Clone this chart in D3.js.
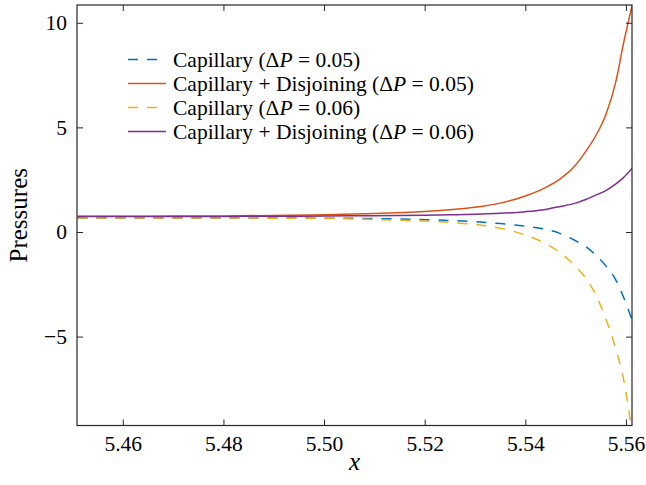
<!DOCTYPE html>
<html><head><meta charset="utf-8">
<script src="https://cdn.jsdelivr.net/npm/d3@7"></script>
</head>
<body style="margin:0;background:#fff">
<svg id="chart" width="646" height="485" style="display:block"></svg>
<script>
const xValues = [5.451, 5.46, 5.47, 5.48, 5.49, 5.50, 5.51, 5.52, 5.525, 5.53, 5.535, 5.54, 5.544, 5.547, 5.55, 5.552, 5.554, 5.556, 5.558, 5.5595, 5.5612];
const capillary005 = [0.67, 0.67, 0.67, 0.67, 0.67, 0.66, 0.64, 0.59, 0.55, 0.49, 0.40, 0.28, 0.13, -0.08, -0.42, -0.70, -1.10, -1.62, -2.30, -3.10, -4.20];
const capDisj005 = [0.75, 0.75, 0.76, 0.77, 0.79, 0.82, 0.88, 0.98, 1.06, 1.18, 1.38, 1.72, 2.12, 2.55, 3.20, 3.85, 4.60, 5.60, 7.20, 9.00, 10.80];
const capillary006 = [0.67, 0.67, 0.67, 0.67, 0.66, 0.65, 0.60, 0.52, 0.46, 0.36, 0.18, -0.14, -0.55, -1.00, -1.65, -2.20, -3.00, -4.15, -5.60, -7.00, -9.60];
const capDisj006 = [0.74, 0.74, 0.74, 0.745, 0.75, 0.76, 0.78, 0.80, 0.82, 0.85, 0.89, 0.97, 1.08, 1.22, 1.38, 1.55, 1.76, 1.98, 2.30, 2.60, 3.04];
const seriesNames = ["Capillary (\u0394P = 0.05)", "Capillary + Disjoining (\u0394P = 0.05)", "Capillary (\u0394P = 0.06)", "Capillary + Disjoining (\u0394P = 0.06)"];
const xTicks = [5.46, 5.48, 5.50, 5.52, 5.54, 5.56];
const yTicks = [-5, 0, 5, 10];

const FONT = "'Liberation Serif', 'DejaVu Serif', serif";
const series = [
  {label: ["Capillary (", "\u0394", "P", " = 0.05)"], values: capillary005, color: "#0072BD", dash: "10,9"},
  {label: ["Capillary + Disjoining (", "\u0394", "P", " = 0.05)"], values: capDisj005, color: "#D95319", dash: null},
  {label: ["Capillary (", "\u0394", "P", " = 0.06)"], values: capillary006, color: "#EDB120", dash: "10,9"},
  {label: ["Capillary + Disjoining (", "\u0394", "P", " = 0.06)"], values: capDisj006, color: "#7E2F8E", dash: null}
];

const L = 77, R = 632, T = 5, B = 425.5;
const svg = d3.select("#chart");
const x = d3.scaleLinear().domain([5.4509, 5.5612]).range([L, R]);
const y = d3.scaleLinear().domain([-9.25, 10.85]).range([B, T]);
const axisColor = "#262626";
const fs = 21.5;

function setFont(sel, size, italic) {
  sel.style("font-family", FONT).style("font-size", size + "px");
  if (italic) sel.style("font-style", "italic");
  return sel;
}

svg.append("defs").append("clipPath").attr("id", "clip")
  .append("rect").attr("x", L).attr("y", T).attr("width", R - L).attr("height", B - T);

const line = d3.line().x((d, i) => x(xValues[i])).y(d => y(d)).curve(d3.curveMonotoneX);
const g = svg.append("g").attr("clip-path", "url(#clip)");
series.forEach(s => {
  g.append("path").datum(s.values)
    .attr("d", line)
    .attr("fill", "none")
    .attr("stroke", s.color)
    .attr("stroke-width", 1.5)
    .attr("stroke-dasharray", s.dash);
});

function styleAxis(sel, showText) {
  sel.select(".domain").remove();
  sel.selectAll(".tick line").attr("stroke", axisColor).attr("stroke-width", 1);
  if (!showText) sel.selectAll(".tick text").remove();
  sel.selectAll(".tick text").attr("fill", "#000").call(t => setFont(t, fs, false));
}
const tickFmt = d3.format(".2f");
const yFmt = d => (d < 0 ? "\u2212" + Math.abs(d) : String(d));

svg.append("g").attr("transform", `translate(0,${B})`)
  .call(d3.axisTop(x).tickValues(xTicks).tickSize(6).tickFormat(""))
  .call(s => styleAxis(s, false));
svg.append("g").attr("transform", `translate(0,${B})`)
  .call(d3.axisBottom(x).tickValues(xTicks).tickSize(0).tickPadding(10).tickFormat(tickFmt))
  .call(s => styleAxis(s, true));
svg.append("g").attr("transform", `translate(0,${T})`)
  .call(d3.axisBottom(x).tickValues(xTicks).tickSize(6).tickFormat(""))
  .call(s => styleAxis(s, false));
svg.append("g").attr("transform", `translate(${L},0)`)
  .call(d3.axisRight(y).tickValues(yTicks).tickSize(6).tickFormat(""))
  .call(s => styleAxis(s, false));
svg.append("g").attr("transform", `translate(${L},0)`)
  .call(d3.axisLeft(y).tickValues(yTicks).tickSize(0).tickPadding(10).tickFormat(yFmt))
  .call(s => styleAxis(s, true));
svg.append("g").attr("transform", `translate(${R},0)`)
  .call(d3.axisLeft(y).tickValues(yTicks).tickSize(6).tickFormat(""))
  .call(s => styleAxis(s, false));

svg.append("rect").attr("x", L).attr("y", T).attr("width", R - L).attr("height", B - T)
  .attr("fill", "none").attr("stroke", axisColor).attr("stroke-width", 1.2);

// axis labels
svg.append("text").attr("x", (L + R) / 2).attr("y", 470)
  .attr("text-anchor", "middle").call(t => setFont(t, 25, true))
  .text("x");
svg.append("text").attr("transform", `translate(27,${(T + B) / 2}) rotate(-90)`)
  .attr("text-anchor", "middle").call(t => setFont(t, 25, false))
  .text("Pressures");

// legend
const lg = svg.append("g");
series.forEach((s, i) => {
  const yy = 59.5 + i * 24;
  lg.append("line").attr("x1", 128).attr("x2", 166).attr("y1", yy).attr("y2", yy)
    .attr("stroke", s.color).attr("stroke-width", 1.5).attr("stroke-dasharray", s.dash);
  const t = lg.append("text").attr("x", 173).attr("y", yy + 7.5).call(t => setFont(t, fs, false));
  t.append("tspan").text(s.label[0]);
  t.append("tspan").text(s.label[1]);
  t.append("tspan").style("font-style", "italic").text(s.label[2]);
  t.append("tspan").text(s.label[3]);
});
</script>
</body></html>
